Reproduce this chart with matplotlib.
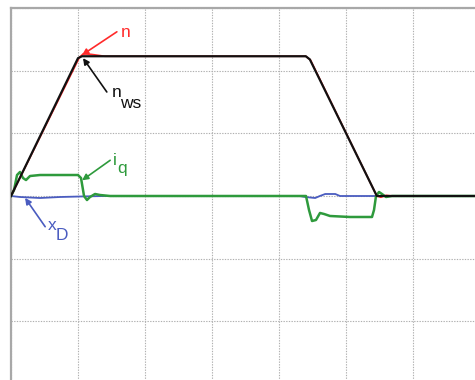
import matplotlib
matplotlib.use("Agg")
import matplotlib.pyplot as plt

plt.rcParams["font.family"] = ["Liberation Sans", "DejaVu Sans"]

# waypoints (x: divisions, y: divisions)
n_ws_t = [0.0, 1.0, 1.06, 4.40, 4.46, 5.46, 7.0]
n_ws_y = [0.0, 2.20, 2.23, 2.23, 2.18, 0.0, 0.0]

n_t = [0.0, 1.02, 1.08, 1.2, 1.4, 4.40, 4.47, 5.46, 5.52, 5.60, 5.70, 7.0]
n_y = [0.0, 2.21, 2.27, 2.26, 2.23, 2.23, 2.17, 0.0, -0.02, 0.01, 0.0, 0.0]

iq_t = [0.0, 0.045, 0.09, 0.134, 0.179, 0.224, 0.284, 0.433, 1.0, 1.045, 1.09,
        1.134, 1.179, 1.254, 1.328, 1.478, 4.403, 4.448, 4.493, 4.552, 4.612,
        4.672, 4.761, 5.06, 5.388, 5.418, 5.448, 5.493, 5.537, 5.597, 5.687, 7.0]
iq_y = [0.0, 0.096, 0.335, 0.383, 0.287, 0.255, 0.319, 0.335, 0.335, 0.287, 0.0,
        -0.064, -0.016, 0.032, 0.016, 0.0, 0.0, -0.223, -0.399, -0.383, -0.271,
        -0.287, -0.319, -0.335, -0.335, -0.223, 0.0, 0.064, 0.032, -0.016, 0.0, 0.0]

xd_t = [0.0, 0.134, 0.433, 0.731, 1.03, 1.40, 4.31, 4.39, 4.54, 4.61, 4.69, 4.84, 4.91, 7.0]
xd_y = [0.0, -0.016, -0.032, -0.016, -0.008, 0.0, 0.0, -0.016, -0.032, 0.0, 0.032, 0.032, 0.0, 0.0]

RED, BLACK, GREEN, BLUE = "#ff2a2a", "#111111", "#2e9a3c", "#4a5cc0"

fig = plt.figure(figsize=(4.75, 3.8), dpi=100)
ax = fig.add_axes([11 / 475, -4 / 380, 469 / 475, 376 / 380])
ax.set_xlim(0, 7)
ax.set_ylim(-3, 3)
ax.set_xticks(range(8))
ax.set_yticks(range(-3, 4))
ax.tick_params(length=0, labelbottom=False, labelleft=False)
ax.grid(True, color="#b0b0b0", linestyle=(0, (1.2, 1.2)), linewidth=0.8)
for side in ("left", "top"):
    ax.spines[side].set_color("#a8a8a8")
    ax.spines[side].set_linewidth(1.6)
for side in ("right", "bottom"):
    ax.spines[side].set_visible(False)

ax.plot(xd_t, xd_y, color=BLUE, lw=1.3, zorder=3)
ax.plot(iq_t, iq_y, color=GREEN, lw=1.8, zorder=4)
ax.plot(n_t, n_y, color=RED, lw=1.2, zorder=5)
ax.plot(n_ws_t, n_ws_y, color=BLACK, lw=1.6, zorder=6)


def label(main, sub, xy_main, xy_sub, tail, head, color):
    # arrow, letter and same-size subscript placed separately, like the scope shot
    ax.annotate("", xy=head, xytext=tail,
                arrowprops=dict(arrowstyle="-|>", lw=1.2, mutation_scale=9,
                                shrinkA=0, shrinkB=0, color=color), zorder=7)
    ax.text(*xy_main, main, color=color, fontsize=12.5, ha="left", va="baseline", zorder=7)
    if sub:
        ax.text(*xy_sub, sub, color=color, fontsize=12.5, ha="left", va="baseline", zorder=7)


label("n", "", (1.64, 2.54), None, (1.58, 2.62), (1.06, 2.25), RED)
label("n", "ws", (1.51, 1.58), (1.63, 1.40), (1.43, 1.66), (1.075, 2.20), BLACK)
label("i", "q", (1.52, 0.49), (1.58, 0.37), (1.48, 0.57), (1.06, 0.25), GREEN)
label("x", "D", (0.55, -0.54), (0.66, -0.70), (0.51, -0.49), (0.21, -0.03), BLUE)

fig.savefig("out.png", dpi=100)
